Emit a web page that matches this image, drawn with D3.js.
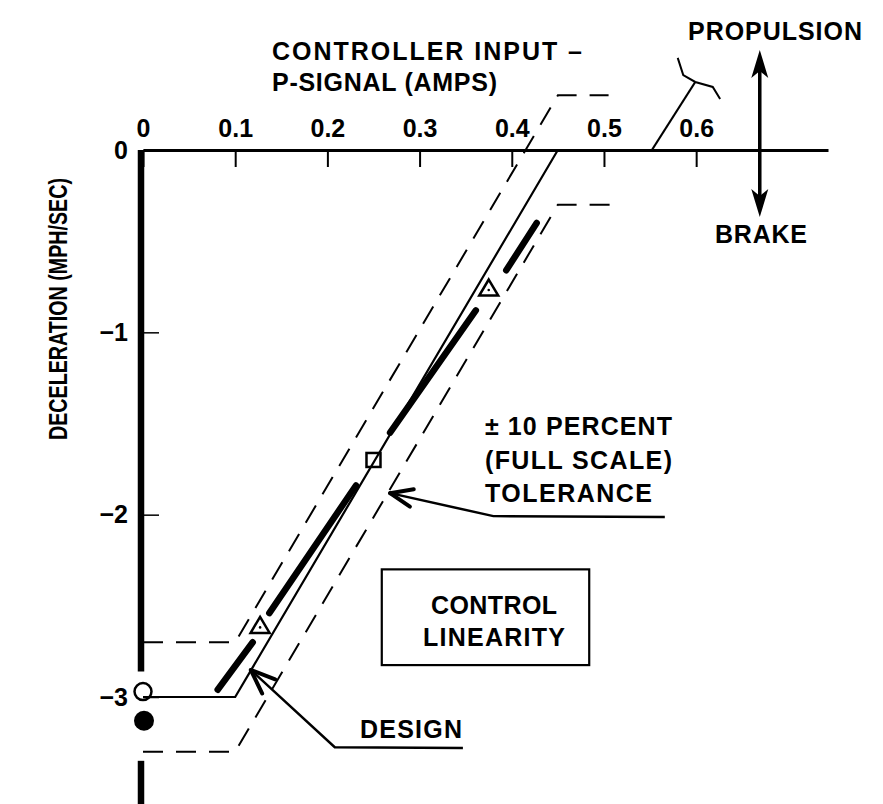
<!DOCTYPE html>
<meta charset="utf-8">
<style>
  body { margin: 0; background: white; }
  svg { background-color: white; }
  text {
    font-family: "Liberation Sans", Arial, sans-serif;
    font-weight: bold;
    font-size: 25px;
    fill: black;
  }
  .axis path, .axis line { stroke: black; fill: none; }
  .axis text { font-size: 25px; font-family: "Liberation Sans", Arial, sans-serif; }
  .ylabel { font-family: "Liberation Sans Narrow", "Liberation Sans", Arial, sans-serif; }
</style>
<body>
<div id="chart"></div>
<script src="https://d3js.org/d3.v7.min.js"></script>
<script>
// axis ticks
var xTicks = [0, 0.1, 0.2, 0.3, 0.4, 0.5, 0.6];
var yTicks = [0, -1, -2, -3];

// design line and +-10 percent (full scale) tolerance band
var designLine = [[0, -3], [0.1, -3], [0.45, 0]];
var upperTolerance = [[0, -2.7], [0.1, -2.7], [0.45, 0.3], [0.505, 0.3]];
var lowerTolerance = [[0, -3.3], [0.1, -3.3], [0.45, -0.3], [0.51, -0.3]];

// measured response (heavy line), broken around the markers
var measuredSegments = [
  [[0.081, -2.96], [0.119, -2.70]],
  [[0.137, -2.54], [0.231, -1.84]],
  [[0.268, -1.55], [0.361, -0.88]],
  [[0.394, -0.66], [0.427, -0.40]]
];
var trianglePts = [[0.127, -2.61], [0.375, -0.76]];
var squarePts = [[0.25, -1.70]];
var openCirclePts = [[0, -2.97]];
var filledCirclePts = [[0, -3.13]];

var width = 883, height = 804;

var x = d3.scaleLinear().domain([0, 0.743]).range([143, 828]);
var y = d3.scaleLinear().domain([0, -3]).range([150, 697]);

var svg = d3.select("#chart").append("svg")
    .attr("width", width)
    .attr("height", height);

var line = d3.line().x(function(d) { return x(d[0]); }).y(function(d) { return y(d[1]); });

// x axis (ticks hang below, labels above)
var xAxis = svg.append("g")
    .attr("class", "axis x-axis")
    .attr("transform", "translate(0," + y(0) + ")")
    .call(d3.axisTop(x).tickValues(xTicks).tickSizeInner(-17).tickSizeOuter(0).tickPadding(13)
      .tickFormat(function(d) { return d === 0 ? "0" : d3.format(".1f")(d); }));
xAxis.select(".domain").attr("stroke-width", 3);
xAxis.selectAll(".tick line").attr("stroke-width", 2);

// y axis (ticks to the right, labels to the left)
var yAxis = svg.append("g")
    .attr("class", "axis y-axis")
    .attr("transform", "translate(" + x(0) + ",0)")
    .call(d3.axisLeft(y).tickValues(yTicks).tickSizeInner(-16).tickSizeOuter(0).tickPadding(15)
      .tickFormat(function(d) { return d === 0 ? "0" : "\u2212" + Math.abs(d); }));
yAxis.select(".domain").remove();
yAxis.selectAll(".tick line").attr("stroke-width", 1.5);

// heavy vertical axis, broken at the circle markers
[[0, -2.86], [-3.35, -3.7]].forEach(function(s) {
  svg.append("line")
    .attr("x1", x(0) - 2).attr("x2", x(0) - 2)
    .attr("y1", y(s[0])).attr("y2", y(s[1]))
    .attr("stroke", "black").attr("stroke-width", 6.5);
});

// tolerance band
[upperTolerance, lowerTolerance].forEach(function(t) {
  svg.append("path")
    .datum(t)
    .attr("d", line)
    .attr("fill", "none")
    .attr("stroke", "black")
    .attr("stroke-width", 2)
    .attr("stroke-dasharray", "20,13");
});

// design
svg.append("path")
  .datum(designLine)
  .attr("d", line)
  .attr("fill", "none")
  .attr("stroke", "black")
  .attr("stroke-width", 2.2);

// measured
svg.selectAll(".measured")
  .data(measuredSegments)
  .enter()
  .append("path")
  .attr("class", "measured")
  .attr("d", line)
  .attr("fill", "none")
  .attr("stroke", "black")
  .attr("stroke-width", 6.5)
  .attr("stroke-linecap", "round");

// markers
svg.selectAll(".tri")
  .data(trianglePts)
  .enter()
  .append("path")
  .attr("class", "tri")
  .attr("transform", function(d) { return "translate(" + x(d[0]) + "," + y(d[1]) + ")"; })
  .attr("d", "M0,-9L9.5,7L-9.5,7Z")
  .attr("fill", "white")
  .attr("stroke", "black")
  .attr("stroke-width", 2.5);
svg.selectAll(".tridot")
  .data(trianglePts)
  .enter()
  .append("circle")
  .attr("cx", function(d) { return x(d[0]); })
  .attr("cy", function(d) { return y(d[1]) + 1.5; })
  .attr("r", 1.3)
  .attr("fill", "black");

svg.selectAll(".sq")
  .data(squarePts)
  .enter()
  .append("rect")
  .attr("x", function(d) { return x(d[0]) - 7; })
  .attr("y", function(d) { return y(d[1]) - 7; })
  .attr("width", 14).attr("height", 14)
  .attr("fill", "none")
  .attr("stroke", "black")
  .attr("stroke-width", 2.5);

svg.selectAll(".ocirc")
  .data(openCirclePts)
  .enter()
  .append("circle")
  .attr("cx", function(d) { return x(d[0]); })
  .attr("cy", function(d) { return y(d[1]); })
  .attr("r", 8.5)
  .attr("fill", "none")
  .attr("stroke", "black")
  .attr("stroke-width", 2.5);

svg.selectAll(".fcirc")
  .data(filledCirclePts)
  .enter()
  .append("circle")
  .attr("cx", function(d) { return x(d[0]) + 1; })
  .attr("cy", function(d) { return y(d[1]); })
  .attr("r", 10)
  .attr("fill", "black");

// axis titles
svg.append("text").attr("x", 272).attr("y", 60).attr("textLength", 310).attr("lengthAdjust", "spacing")
  .text("CONTROLLER INPUT \u2013");
svg.append("text").attr("x", 272).attr("y", 91).attr("textLength", 225).attr("lengthAdjust", "spacing")
  .text("P-SIGNAL (AMPS)");
svg.append("text")
  .attr("class", "ylabel")
  .attr("transform", "translate(67,309) rotate(-90)")
  .attr("text-anchor", "middle")
  .attr("textLength", 262).attr("lengthAdjust", "spacingAndGlyphs")
  .text("DECELERATION (MPH/SEC)");

// propulsion / brake double arrow and controller handle
var ax = x(0.669);
svg.append("line").attr("x1", ax).attr("x2", ax).attr("y1", y(0.45)).attr("y2", y(-0.26))
  .attr("stroke", "black").attr("stroke-width", 3.5);
svg.append("path")
  .attr("d", "M" + ax + "," + y(0.549) + "L" + (ax + 8.5) + "," + (y(0.549) + 28) + "L" + ax + "," + (y(0.549) + 21) + "L" + (ax - 8.5) + "," + (y(0.549) + 28) + "Z")
  .attr("fill", "black");
svg.append("path")
  .attr("d", "M" + ax + "," + y(-0.368) + "L" + (ax + 8.5) + "," + (y(-0.368) - 28) + "L" + ax + "," + (y(-0.368) - 21) + "L" + (ax - 8.5) + "," + (y(-0.368) - 28) + "Z")
  .attr("fill", "black");
svg.append("text").attr("x", 688).attr("y", 40).attr("textLength", 174).attr("lengthAdjust", "spacing").text("PROPULSION");
svg.append("text").attr("x", 715).attr("y", 243).attr("textLength", 92).attr("lengthAdjust", "spacing").text("BRAKE");

svg.append("path")
  .datum([[0.552, 0], [0.599, 0.373]])
  .attr("d", line).attr("fill", "none").attr("stroke", "black").attr("stroke-width", 2.2);
svg.append("path")
  .datum([[0.580, 0.505], [0.586, 0.411], [0.599, 0.373], [0.618, 0.346], [0.626, 0.28]])
  .attr("d", line).attr("fill", "none").attr("stroke", "black").attr("stroke-width", 2);

// leader with open arrowhead
function leader(pts, barb) {
  var p = pts.map(function(d) { return [x(d[0]), y(d[1])]; });
  svg.append("path").attr("d", d3.line()(p))
    .attr("fill", "none").attr("stroke", "black").attr("stroke-width", 2.5);
  var dx = p[1][0] - p[0][0], dy = p[1][1] - p[0][1];
  var a = Math.atan2(dy, dx);
  [a - 0.38, a + 0.38].forEach(function(b) {
    svg.append("line")
      .attr("x1", p[0][0]).attr("y1", p[0][1])
      .attr("x2", p[0][0] + barb * Math.cos(b)).attr("y2", p[0][1] + barb * Math.sin(b))
      .attr("stroke", "black").attr("stroke-width", 4).attr("stroke-linecap", "round");
  });
}

// tolerance note
leader([[0.268, -1.882], [0.380, -2.008], [0.566, -2.013]], 24);
svg.append("text").attr("x", 485).attr("y", 435).attr("textLength", 187).attr("lengthAdjust", "spacing").text("\u00b1 10 PERCENT");
svg.append("text").attr("x", 485).attr("y", 469).attr("textLength", 187).attr("lengthAdjust", "spacing").text("(FULL SCALE)");
svg.append("text").attr("x", 485).attr("y", 502).attr("textLength", 167).attr("lengthAdjust", "spacing").text("TOLERANCE");

// design note
leader([[0.117, -2.852], [0.208, -3.275], [0.347, -3.28]], 26);
svg.append("text").attr("x", 360).attr("y", 738).attr("textLength", 102).attr("lengthAdjust", "spacing").text("DESIGN");

// title box
svg.append("rect")
  .attr("x", x(0.259)).attr("y", y(-2.3))
  .attr("width", x(0.484) - x(0.259)).attr("height", y(-2.825) - y(-2.3))
  .attr("fill", "none").attr("stroke", "black").attr("stroke-width", 2.2);
svg.append("text").attr("x", 494).attr("y", 614).attr("text-anchor", "middle").attr("textLength", 126).attr("lengthAdjust", "spacing").text("CONTROL");
svg.append("text").attr("x", 494).attr("y", 646).attr("text-anchor", "middle").attr("textLength", 142).attr("lengthAdjust", "spacing").text("LINEARITY");
</script>
</body>
